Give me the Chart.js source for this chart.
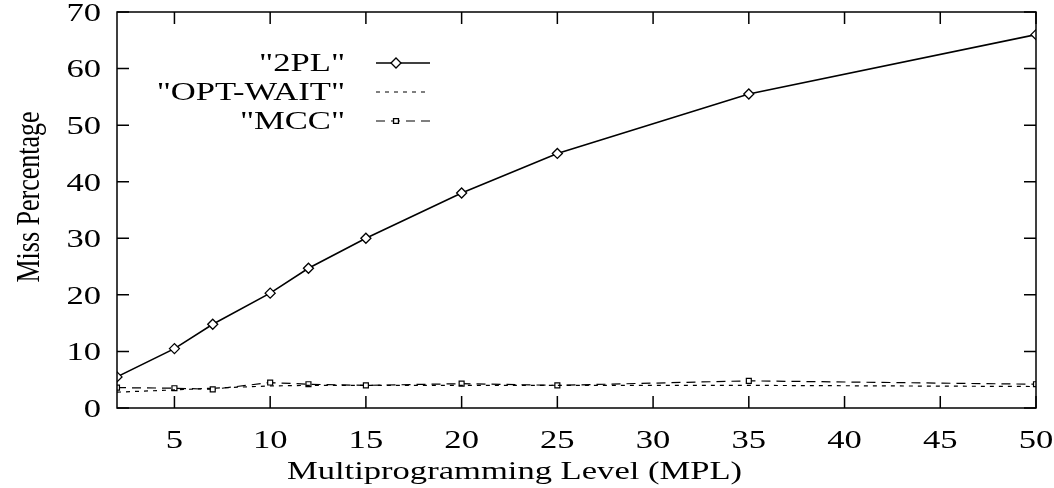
<!DOCTYPE html>
<html>
<head>
<meta charset="utf-8">
<script src="https://cdn.jsdelivr.net/npm/chart.js@4.4.0/dist/chart.umd.min.js"></script>
<style>
  html, body { margin: 0; padding: 0; background: #fff; }
  #wrap { width: 1054px; height: 488px; }
</style>
</head>
<body>
<div id="wrap"><canvas id="mplChart"></canvas></div>
<script>
// values
const mpl = [2, 5, 7, 10, 12, 15, 20, 25, 35, 50];
const twoPL = [5.5, 10.5, 14.8, 20.3, 24.7, 30.0, 38.0, 45.0, 55.5, 66.0];
const optWait = [2.8, 3.2, 3.5, 3.9, 4.0, 4.0, 4.0, 4.0, 4.0, 3.8];
const mcc = [3.6, 3.5, 3.3, 4.5, 4.2, 4.0, 4.3, 4.0, 4.8, 4.2];
const xTicks = [5, 10, 15, 20, 25, 30, 35, 40, 45, 50];
const yTicks = [0, 10, 20, 30, 40, 50, 60, 70];
const xTitle = 'Multiprogramming Level (MPL)';
const yTitle = 'Miss Percentage';

const serif = "'Liberation Serif', 'DejaVu Serif', serif";
const FONT = "26px " + serif;
const SX = 1.33; // the scanned figure's text is stretched sideways

function pts(ys) {
    return mpl.map((x, i) => ({ x: x, y: ys[i] }));
}

// write text stretched horizontally like the original
function wideText(ctx, txt, x, y, align) {
    ctx.save();
    ctx.translate(x, y);
    ctx.scale(SX, 1);
    ctx.textAlign = align;
    ctx.fillText(txt, 0, 0);
    ctx.restore();
}

// box round the plot, inward ticks on all four sides, tick labels and titles
const frame = {
    id: 'frame',
    afterDraw(chart) {
        const ctx = chart.ctx;
        const a = chart.chartArea;
        const xs = chart.scales.x, ys = chart.scales.y;
        const len = 12;
        ctx.save();
        ctx.strokeStyle = '#000';
        ctx.lineWidth = 1.5;
        ctx.strokeRect(a.left, a.top, a.right - a.left, a.bottom - a.top);
        ctx.beginPath();
        xTicks.forEach(v => {
            const px = xs.getPixelForValue(v);
            ctx.moveTo(px, a.bottom); ctx.lineTo(px, a.bottom - len);
            ctx.moveTo(px, a.top); ctx.lineTo(px, a.top + len);
        });
        yTicks.forEach(v => {
            const py = ys.getPixelForValue(v);
            ctx.moveTo(a.left, py); ctx.lineTo(a.left + len, py);
            ctx.moveTo(a.right, py); ctx.lineTo(a.right - len, py);
        });
        ctx.stroke();

        ctx.font = FONT;
        ctx.fillStyle = '#000';
        ctx.textBaseline = 'middle';
        xTicks.forEach(v => wideText(ctx, String(v), xs.getPixelForValue(v), a.bottom + 33, 'center'));
        yTicks.forEach(v => wideText(ctx, String(v), a.left - 16, ys.getPixelForValue(v) + 2, 'right'));
        wideText(ctx, xTitle, (a.left + a.right) / 2 - 62, a.bottom + 64, 'center');

        // y title: vertical, thickened across its width
        ctx.save();
        ctx.translate(30, 197);
        ctx.scale(SX, 1);
        ctx.rotate(-Math.PI / 2);
        ctx.textAlign = 'center';
        ctx.fillText(yTitle, 0, 0);
        ctx.restore();
        ctx.restore();
    }
};

// gnuplot style key: label right-aligned, sample line to its right
const key = {
    id: 'key',
    afterDraw(chart) {
        const ctx = chart.ctx;
        const textRight = 345, x0 = 376, x1 = 430;
        const rows = [63, 92, 121];
        ctx.save();
        ctx.font = FONT;
        ctx.textBaseline = 'middle';
        chart.data.datasets.forEach((ds, i) => {
            const y = rows[i];
            ctx.fillStyle = '#000';
            wideText(ctx, '"' + ds.label + '"', textRight, y + 1, 'right');
            ctx.beginPath();
            ctx.strokeStyle = '#000';
            ctx.lineWidth = ds.borderWidth;
            ctx.setLineDash(ds.borderDash || []);
            ctx.moveTo(x0, y); ctx.lineTo(x1, y);
            ctx.stroke();
            ctx.setLineDash([]);
            if (ds.pointRadius > 0) {
                ctx.fillStyle = '#fff';
                ctx.lineWidth = 1.3;
                Chart.helpers.drawPoint(ctx, {
                    pointStyle: ds.pointStyle,
                    radius: ds.pointRadius,
                    borderWidth: 1.3
                }, (x0 + x1) / 2 - 7, y);
            }
        });
        ctx.restore();
    }
};

const ctx = document.getElementById('mplChart').getContext('2d');
const mplChart = new Chart(ctx, {
    type: 'line',
    data: {
        datasets: [
            {
                label: '2PL',
                data: pts(twoPL),
                borderColor: '#000',
                backgroundColor: '#fff',
                borderWidth: 1.6,
                pointStyle: 'rectRot',
                pointRadius: 5,
                pointBorderWidth: 1.3,
                tension: 0
            },
            {
                label: 'OPT-WAIT',
                data: pts(optWait),
                borderColor: '#000',
                backgroundColor: '#fff',
                borderWidth: 1.2,
                borderDash: [4, 5],
                pointRadius: 0,
                tension: 0
            },
            {
                label: 'MCC',
                data: pts(mcc),
                borderColor: '#000',
                backgroundColor: '#fff',
                borderWidth: 1.2,
                borderDash: [9, 6],
                pointStyle: 'rect',
                pointRadius: 3.5,
                pointBorderWidth: 1.2,
                tension: 0
            }
        ]
    },
    options: {
        responsive: true,
        maintainAspectRatio: false,
        animation: false,
        layout: { padding: { left: 117, right: 18, top: 12, bottom: 80 } },
        plugins: {
            legend: { display: false },
            tooltip: { enabled: false }
        },
        scales: {
            x: {
                type: 'linear',
                min: 2,
                max: 50,
                afterBuildTicks: axis => { axis.ticks = xTicks.map(v => ({ value: v })); },
                grid: { display: false, drawTicks: false },
                border: { display: false },
                ticks: { display: false }
            },
            y: {
                min: 0,
                max: 70,
                afterBuildTicks: axis => { axis.ticks = yTicks.map(v => ({ value: v })); },
                grid: { display: false, drawTicks: false },
                border: { display: false },
                ticks: { display: false }
            }
        }
    },
    plugins: [frame, key]
});
</script>
</body>
</html>
